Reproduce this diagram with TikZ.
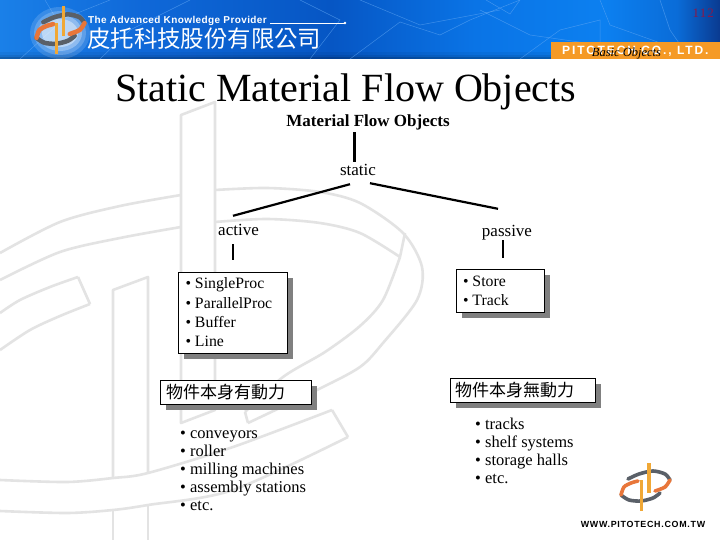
\documentclass[tikz,border=0pt]{standalone}
\usepackage{fontspec}
\usetikzlibrary{shadows}
\setmainfont{Liberation Serif}
\setsansfont{Liberation Sans}
\newfontfamily\cjk{Noto Sans CJK TC}
\definecolor{wm}{HTML}{E3E3E3}
\definecolor{shadowgray}{HTML}{808080}
\definecolor{mapline}{HTML}{62A8F4}
\definecolor{logogray}{HTML}{5A6068}
\definecolor{logoorange}{HTML}{E8763A}
\definecolor{logoyellow}{HTML}{F0A836}
\definecolor{bandorange}{HTML}{F59A26}
\definecolor{pagemark}{HTML}{8A1848}
\definecolor{bannerA}{HTML}{1A80E8}
\definecolor{bannerB}{HTML}{0F68D8}
\definecolor{bannerC}{HTML}{0656C4}
\definecolor{bannerD}{HTML}{0A74E6}
\definecolor{bannerE}{HTML}{0C80F0}
\definecolor{bannerF}{HTML}{0A6CD8}
\definecolor{bannerG}{HTML}{0A3A90}
\pgfdeclarehorizontalshading{bannershade}{100bp}{
 color(0bp)=(bannerA); color(25bp)=(bannerA); color(35bp)=(bannerB); color(48bp)=(bannerC);
 color(58bp)=(bannerD); color(67bp)=(bannerE); color(72bp)=(bannerF); color(75bp)=(bannerG); color(100bp)=(bannerG)}
\newcommand\fsz[1]{\fontsize{#1}{#1}\selectfont}
\newcommand\drawlogo[3]{%
 \begin{scope}[shift={(#1)},scale=#2,line cap=round]
  \draw[logogray,line width=#3] plot[smooth] coordinates {(-17,-9) (-6,-14) (8,-17) (20,-14) (25,-8)};
  \draw[logogray,line width=#3] plot[smooth] coordinates {(-24,7) (-16,12) (-4,13) (8,10) (15,5)};
  \draw[logoorange,line width=#3] plot[smooth] coordinates {(-24,7) (-21,-1) (-14,-5) (-7,-7)};
  \draw[logoorange,line width=#3] plot[smooth] coordinates {(10,3) (20,-1) (25,-8)};
  \fill[logoyellow] (2,-25) rectangle (5.5,5);
  \fill[logoyellow] (-5.5,-8) rectangle (-2,23);
 \end{scope}}
\tikzset{
 wmline/.style={wm,line width=2.6pt,line join=round},
 mapln/.style={mapline,line width=.5pt,opacity=.6},
 label/.style={inner sep=0pt,text height=11pt,text depth=3pt,font=\fsz{17}},
 conn/.style={black,line width=2.2pt},
 shadowbox/.style={draw=black,line width=1pt,fill=white,inner sep=0pt,outer sep=0pt,align=left,anchor=north west,
   drop shadow={shadow xshift=6pt,shadow yshift=-6pt,fill=shadowgray,opacity=1}},
 bullets/.style={inner sep=0pt,align=left,anchor=north west,font=\fontsize{16.5}{18}\selectfont},
}
\begin{document}
\begin{tikzpicture}[x=1pt,y=-1pt]
\useasboundingbox (0,0) rectangle (720,540);
\fill[white] (0,0) rectangle (720,540);
% watermark
\draw[wmline] (181,423) -- (181,115) -- (215,102) -- (215,410) -- cycle;
\draw[wmline] (113,478) -- (113,290) -- (148,277) -- (148,473);
\draw[wmline] (113,510) -- (113,540);
\draw[wmline] (148,505) -- (148,540);
\draw[wmline] plot[smooth] coordinates {(0,253) (60,222) (120,206) (181,195)};
\draw[wmline] plot[smooth] coordinates {(0,280) (60,252) (120,238) (181,227)};
\draw[wmline] plot[smooth] coordinates {(215,190) (267,188) (320,192) (360,203) (403,233) (422,267) (417,300) (383,343) (360,367) (317,390) (248,423)};
\draw[wmline] plot[smooth] coordinates {(215,222) (267,219) (320,223) (360,233) (400,257)};
\draw[wmline] (405,233) -- (400,257);
\draw[wmline] plot[smooth] coordinates {(400,257) (383,300) (360,326) (325,352) (283,377) (245,412)};
\draw[wmline] (245,412) -- (248,423);
\draw[wmline] plot[smooth] coordinates {(0,313) (20,300) (50,287) (78,277)};
\draw[wmline] plot[smooth] coordinates {(0,350) (30,330) (60,316) (90,304)};
\draw[wmline] (78,277) -- (90,304);
\draw[wmline] plot[smooth] coordinates {(0,480) (67,482) (113,478) (148,473) (233,447) (332,410)};
\draw[wmline] plot[smooth] coordinates {(0,511) (67,513) (113,510) (148,505) (233,490) (348,437)};
\draw[wmline] (332,410) -- (348,437);
% banner
\fill[shading=bannershade] (0,0) rectangle (720,59);
\fill[black,opacity=.05] (0,52) rectangle (720,59);
\fill[black,opacity=.08] (0,55) rectangle (720,59);
\fill[black,opacity=.15] (0,57) rectangle (720,59);
\draw[mapln] (20,59) -- (65,18) -- (110,0);
\draw[mapln] (45,0) -- (60,25);
\draw[mapln] (100,59) -- (130,30) -- (160,15) -- (190,0);
\draw[mapln] (360,0) -- (420,25) -- (500,10);
\draw[mapln] (350,59) -- (400,22) -- (440,35) -- (470,20) -- (520,0);
\draw[mapln] (480,10) -- (530,35) -- (600,45);
\draw[mapln] (486,0) -- (510,14) -- (520,0);
\draw[mapln] (520,59) -- (560,30) -- (600,20) -- (600,45);
\draw[mapln] (600,0) -- (610,25) -- (680,50);
\draw[mapln] (660,0) -- (670,30) -- (690,59);
\draw[mapln] (300,0) -- (340,20) -- (310,59);
\fill[white,opacity=.15] (60,33) ellipse (30 and 26);
\fill[white,opacity=.2] (60,33) ellipse (26 and 22);
\fill[white,opacity=.3] (60,33) ellipse (22 and 18);
\fill[white,opacity=.4] (60,33) ellipse (18 and 14);
\drawlogo{60,31}{.98}{4.5pt}
\node[inner sep=0pt,anchor=west,white] (slogan) at (88,21) {\sffamily\bfseries\addfontfeatures{LetterSpace=4}\fsz{10}The Advanced Knowledge Provider};
\coordinate (sloganend) at (345,23);
\draw[white,line width=.8pt] ([xshift=3pt,yshift=-2pt]slogan.east) -- (sloganend);
\fill[white] (sloganend) circle (1.3);
\node[inner sep=0pt,anchor=west,white] (company) at (87,39) {\cjk\fsz{23.4}皮托科技股份有限公司};
\fill[bandorange] (551,42) rectangle (720,59);
\node[inner sep=0pt,anchor=west,white] (pito) at (562,51) {\sffamily\bfseries\addfontfeatures{LetterSpace=16}\fsz{12}PITOTECH CO., LTD.};
\node[inner sep=0pt,anchor=center] (basic) at (626.5,53) {\itshape\fsz{12.5}Basic Objects};
\node[inner sep=0pt,anchor=east,pagemark] (page) at (714,13) {\addfontfeatures{LetterSpace=8}\fsz{13}112};
% title
\node[inner sep=0pt,anchor=west] (title) at (115,92) {\fsz{40}Static Material Flow Objects};
% tree labels
\node[label,font=\fsz{17}\bfseries] (mfo) at (368,122.7) {Material Flow Objects};
\node[label] (static) at (358,172) {static};
\node[label] (active) at (238.5,231.5) {active};
\node[label] (passive) at (507,232.5) {passive};
% boxes
\node[shadowbox,minimum width=109pt,minimum height=81pt] (box1) at (178,272)
 {\hspace{6pt}\begin{minipage}{100pt}\fsz{15.8}\baselineskip=19.3pt \textbullet\ SingleProc\\ \textbullet\ ParallelProc\\ \textbullet\ Buffer\\ \textbullet\ Line\end{minipage}};
\node[shadowbox,minimum width=88pt,minimum height=43pt] (box2) at (456,269)
 {\hspace{6pt}\begin{minipage}{80pt}\fsz{15.8}\baselineskip=19.3pt \textbullet\ Store\\ \textbullet\ Track\end{minipage}};
\node[shadowbox,text width=151pt,minimum height=24pt] (box3) at (160,380)
 {\hspace*{6pt}\cjk\fsz{17}物件本身有動力};
\node[shadowbox,text width=145pt,minimum height=24pt] (box4) at (450,378)
 {\hspace*{5pt}\cjk\fsz{17}物件本身無動力};
% lists
\node[bullets] (list1) at (180,431) {\textbullet\ conveyors\\ \textbullet\ roller\\ \textbullet\ milling machines\\ \textbullet\ assembly stations\\ \textbullet\ etc.};
\node[bullets] (list2) at (475,418) {\textbullet\ tracks\\ \textbullet\ shelf systems\\ \textbullet\ storage halls\\ \textbullet\ etc.};
% connectors
\draw[conn,line width=2.6pt] ([xshift=-13.5pt,yshift=-2.3pt]mfo.south) -- ([xshift=-3.5pt,yshift=3pt]static.north);
\draw[conn] ([xshift=-8pt,yshift=-5pt]static.south) -- ([xshift=-5.5pt,yshift=8.5pt]active.north);
\draw[conn] ([xshift=12pt,yshift=-4pt]static.south) -- ([xshift=-9pt,yshift=16.5pt]passive.north);
\draw[conn,line width=1.8pt] ([xshift=-5.5pt,yshift=-5.5pt]active.south) -- ([xshift=.5pt,yshift=12pt]box1.north);
\draw[conn,line width=1.8pt] ([xshift=-4pt,yshift=-.5pt]passive.south) -- ([xshift=3pt,yshift=11pt]box2.north);
% bottom logo
\drawlogo{645,488}{1}{3.6pt}
\node[inner sep=0pt,anchor=center] (url) at (643,524) {\sffamily\bfseries\addfontfeatures{LetterSpace=8}\fsz{8.9}WWW.PITOTECH.COM.TW};
\end{tikzpicture}
\end{document}
